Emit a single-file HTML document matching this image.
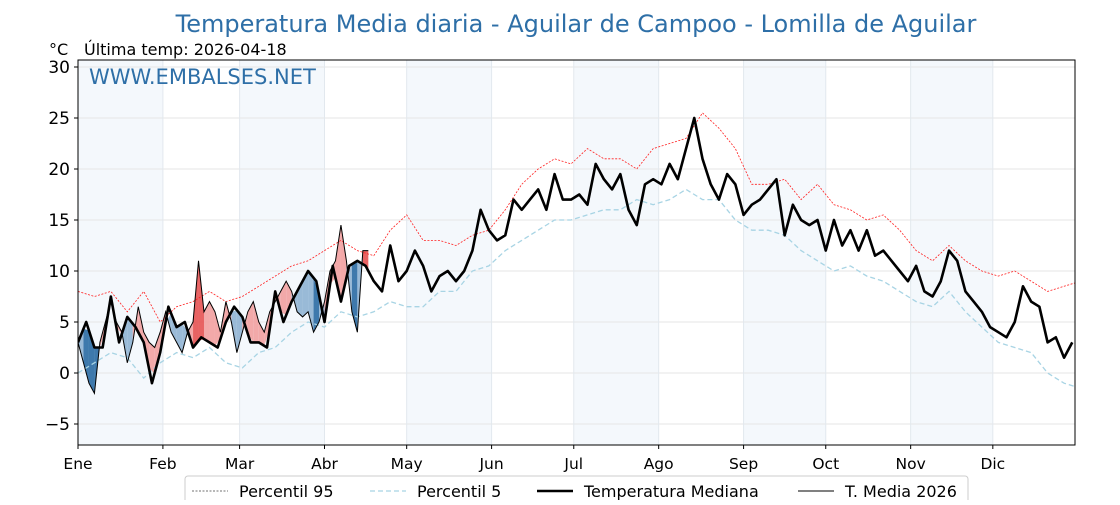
<!DOCTYPE html>
<html><head><meta charset="utf-8"><style>
body{margin:0;background:#fff;width:1120px;height:500px;overflow:hidden;font-family:"Liberation Sans","DejaVu Sans",sans-serif}
</style></head><body>
<svg id="chart" width="1120" height="500" xmlns="http://www.w3.org/2000/svg" font-family="DejaVu Sans, Liberation Sans, sans-serif"></svg>
<script>
const months=["Ene","Feb","Mar","Abr","May","Jun","Jul","Ago","Sep","Oct","Nov","Dic"];
const monthStart=[0,31,59,90,120,151,181,212,243,273,304,334];
const yTicks=[-5,0,5,10,15,20,25,30];
const medianStep=3;
const median=[3,5,2.5,2.5,7.5,3,5.5,4.5,3,-1,2,6.5,4.5,5,2.5,3.5,3,2.5,5,6.5,
5.5,3,3,2.5,8,5,7,8.5,10,9,
5,10.5,7,10.5,11,10.5,9,8,12.5,9,
10,12,10.5,8,9.5,10,9,10,12,16,
14,13,13.5,17,16,17,18,16,19.5,17,
17,17.5,16.5,20.5,19,18,19.5,16,14.5,18.5,
19,18.5,20.5,19,22,25,21,18.5,17,19.5,
18.5,15.5,16.5,17,18,19,13.5,16.5,15,14.5,
15,12,15,12.5,14,12,14,11.5,12,11,
10,9,10.5,8,7.5,9,12,11,8,7,
6,4.5,4,3.5,5,8.5,7,6.5,3,3.5,
1.5,3];
const pctStep=6;
const p95=[8,7.5,8,6,8,5,6.5,7,8,7,7.5,8.5,9.5,10.5,11,12,13,12,11.5,14,15.5,13,13,12.5,13.5,14,16,18.5,20,21,20.5,22,21,21,20,22,22.5,23,25.5,24,22,18.5,18.5,19,17,18.5,16.5,16,15,15.5,14,12,11,12.5,11,10,9.5,10,9,8,8.5,9];
const p5=[0,1,2,1.5,-0.5,1,2,1.5,2.5,1,0.5,2,2.5,4,5,4.5,6,5.5,6,7,6.5,6.5,8,8,10,10.5,12,13,14,15,15,15.5,16,16,17,16.5,17,18,17,17,15,14,14,13.5,12,11,10,10.5,9.5,9,8,7,6.5,8,6,4.5,3,2.5,2,0,-1,-1.5];
const curStep=2;
const cur2026=[3,1,-1,-2,3,5,7,5,4,1,3,6.5,4,3,2.5,4,6,4,3,2,4,5,11,6,7,6,4,7,5,2,4,6,7,5,4,6,7,8,9,8,6,5.5,6,4,5,7,10,11,14.5,11,6,4,12,12];

const svg=document.getElementById('chart');
const NS='http://www.w3.org/2000/svg';
const X0=78,X1=1075,Y0=60,Y1=445;
const xs=d=>X0+d*(X1-X0)/364;
const ys=v=>373-v*10.2;
function el(tag,attrs,parent){const e=document.createElementNS(NS,tag);for(const k in attrs)e.setAttribute(k,attrs[k]);(parent||svg).appendChild(e);return e;}
function interp(arr,step,d){const i=d/step;const a=Math.floor(i);if(a>=arr.length-1)return arr[arr.length-1];const t=i-a;return arr[a]*(1-t)+arr[a+1]*t;}

const defs=el('defs',{});
const cp=el('clipPath',{id:'plotclip'},defs);
el('rect',{x:X0,y:Y0,width:X1-X0,height:Y1-Y0},cp);

for(let m=0;m<12;m+=2){const x1=xs(monthStart[m]),x2=xs(monthStart[m+1]);
const r=el('rect',{x:x1,y:Y0,width:x2-x1,height:Y1-Y0,fill:'#f4f8fc'});

}
yTicks.forEach(v=>{const g=el('line',{x1:X0,x2:X1,y1:ys(v),y2:ys(v),stroke:'#e6e6e6','stroke-width':1});
});
monthStart.forEach(d=>{const g=el('line',{x1:xs(d),x2:xs(d),y1:Y0,y2:Y1,stroke:'#e2e8ee','stroke-width':1});
});

const plot=el('g',{'clip-path':'url(#plotclip)'});



for(let i=0;i<cur2026.length-1;i++){
 const d1=i*curStep,d2=(i+1)*curStep;
 const m1=interp(median,medianStep,d1),m2=interp(median,medianStep,d2);
 const c1=cur2026[i],c2=cur2026[i+1];
 const avg=(c1+c2)/2-(m1+m2)/2;
 const pa=(interp(p95,pctStep,d1)+interp(p95,pctStep,d2))/2,pb=(interp(p5,pctStep,d1)+interp(p5,pctStep,d2))/2;
 let col;if(avg>=0)col=((c1+c2)/2>pa)?'#e65252':'#f2a0a0';else col=((c1+c2)/2<pb)?'#2a6aa3':'#8fb3d3';
 const p=el('polygon',{points:`${xs(d1)},${ys(c1)} ${xs(d2)},${ys(c2)} ${xs(d2)},${ys(m2)} ${xs(d1)},${ys(m1)}`,fill:col,'fill-opacity':0.9},plot);
 
}
function line(arr,step,attrs,name){const pts=arr.map((v,i)=>xs(i*step)+','+ys(v)).join(' ');
const l=el('polyline',Object.assign({points:pts,fill:'none'},attrs),plot);return l;}
line(p5,pctStep,{stroke:'#a8d4e4','stroke-width':1.3,'stroke-dasharray':'5,3'},'percentile-5-line');
line(p95,pctStep,{stroke:'#ff2020','stroke-width':0.8,'stroke-dasharray':'2,1.5'},'percentile-95-line');
line(median,medianStep,{stroke:'#000','stroke-width':2.6,'stroke-linejoin':'round'},'median-line');
line(cur2026,curStep,{stroke:'#000','stroke-width':1},'t-media-2026-line');

const fr=el('rect',{x:X0,y:Y0,width:X1-X0,height:Y1-Y0,fill:'none',stroke:'#000','stroke-width':1});

yTicks.forEach(v=>{el('line',{x1:X0-4,x2:X0,y1:ys(v),y2:ys(v),stroke:'#000'});
const t=el('text',{x:X0-8,y:ys(v)+6,'text-anchor':'end','font-size':17,fill:'#000'});t.textContent=v<0?'\u2212'+(-v):v;
});
months.forEach((m,i)=>{el('line',{x1:xs(monthStart[i]),x2:xs(monthStart[i]),y1:Y1,y2:Y1+4,stroke:'#000'});
const t=el('text',{x:xs(monthStart[i]),y:469,'text-anchor':'middle','font-size':15.5,fill:'#000'});t.textContent=m;
});

let t=el('text',{x:576,y:32,'text-anchor':'middle','font-size':24,fill:'#2e6fa7'});t.textContent='Temperatura Media diaria - Aguilar de Campoo - Lomilla de Aguilar';

t=el('text',{x:49,y:55,'font-size':16,fill:'#000'});t.textContent='°C';

t=el('text',{x:84,y:55,'font-size':16,fill:'#000'});t.textContent='Última temp: 2026-04-18';

t=el('text',{x:89,y:84,'font-size':21,fill:'#2e6fa7'});t.textContent='WWW.EMBALSES.NET';


const lg=el('g',{});
el('rect',{x:185,y:476,width:783,height:30,rx:3,fill:'#fff',stroke:'#ccc'},lg);
const items=[['Percentil 95',{stroke:'#444','stroke-width':0.8,'stroke-dasharray':'2,1.5'},192,239],
['Percentil 5',{stroke:'#a8d4e4','stroke-width':1.3,'stroke-dasharray':'5,3'},370,417],
['Temperatura Mediana',{stroke:'#000','stroke-width':2.6},537,584],
['T. Media 2026',{stroke:'#000','stroke-width':1},798,845]];
items.forEach(([lab,st,lx,tx])=>{const g=el('g',{},lg);
el('line',Object.assign({x1:lx,x2:lx+36,y1:491,y2:491},st),g);
const tt=el('text',{x:tx,y:497,'font-size':16,fill:'#000'},g);tt.textContent=lab;});
</script>
</body></html>
